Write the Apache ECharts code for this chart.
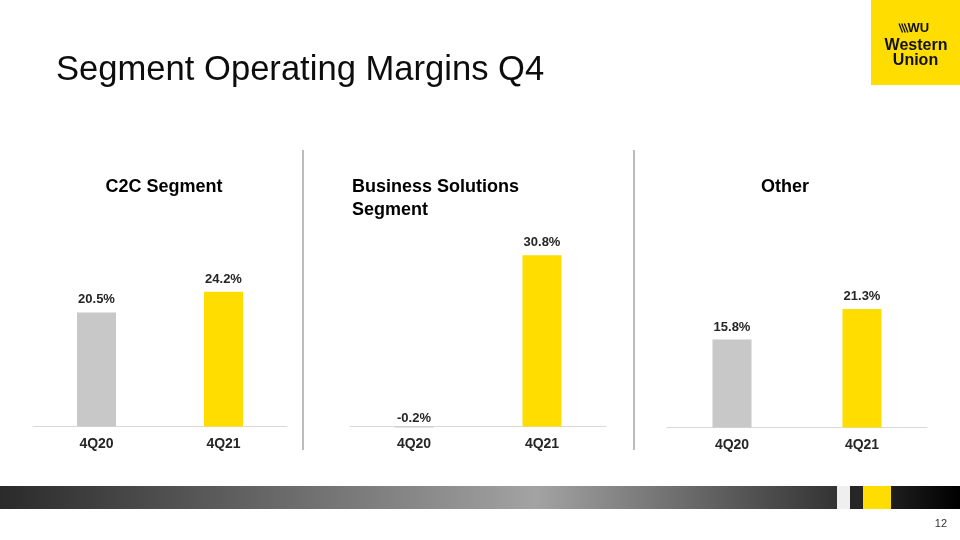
<!DOCTYPE html>
<html>
<head>
<meta charset="utf-8">
<title>Segment Operating Margins Q4</title>
<script src="https://cdn.jsdelivr.net/npm/echarts@6/dist/echarts.min.js"></script>
<style>
html, body { margin: 0; padding: 0; background: #fff; }
#chart { width: 960px; height: 540px; }
</style>
</head>
<body>
<div id="chart"></div>
<script>
// data
var quarters = ['4Q20', '4Q21'];
var c2cMargin = [20.5, 24.2];
var bsMargin = [-0.2, 30.8];
var otherMargin = [15.8, 21.3];
var panelTitles = ['C2C Segment', 'Business Solutions\nSegment', 'Other'];
var pageTitle = 'Segment Operating Margins Q4';
var pageNumber = '12';

var font = '"Liberation Sans", Arial, sans-serif';
var barColors = ['#c8c8c8', '#ffdd00'];
var panels = [
    { left: 33, width: 254, top: 204, titleX: 164, align: 'center', values: c2cMargin },
    { left: 350, width: 256, top: 204, titleX: 352, align: 'left', values: bsMargin },
    { left: 667, width: 260, top: 205, titleX: 785, align: 'center', values: otherMargin }
];

var grids = [], xAxes = [], yAxes = [], series = [], graphics = [];

panels.forEach(function (p, i) {
    grids.push({ left: p.left, width: p.width, top: p.top, height: 233.5 });
    xAxes.push({
        type: 'category',
        gridIndex: i,
        data: quarters,
        axisTick: { show: false },
        axisLine: { onZero: true, lineStyle: { color: '#d9d9d9', width: 1 } },
        axisLabel: { margin: 0, fontSize: 14, fontWeight: 'bold', color: '#262626', fontFamily: font }
    });
    yAxes.push({ type: 'value', gridIndex: i, min: -2, max: 40, show: false });
    series.push({
        type: 'bar',
        xAxisIndex: i,
        yAxisIndex: i,
        barWidth: 39,
        data: p.values.map(function (v, j) {
            return {
                value: v,
                itemStyle: { color: barColors[j] },
                label: { distance: v < 0 ? 1 : 6 }
            };
        }),
        label: {
            show: true,
            position: 'top',
            fontSize: 13,
            fontWeight: 'bold',
            color: '#262626',
            fontFamily: font,
            formatter: function (d) { return d.value.toFixed(1) + '%'; }
        }
    });
    graphics.push({
        type: 'text',
        style: {
            x: p.titleX, y: 176, text: panelTitles[i],
            font: 'bold 18px ' + font, lineHeight: 23,
            fill: '#000', textAlign: p.align, textVerticalAlign: 'top'
        }
    });
});

// dividers between panels
[303, 634].forEach(function (x) {
    graphics.push({
        type: 'line',
        shape: { x1: x, y1: 150, x2: x, y2: 450 },
        style: { stroke: '#a6a6a6', lineWidth: 1.5 }
    });
});

// page title
graphics.push({
    type: 'text',
    style: {
        x: 56, y: 70, text: pageTitle, font: '34.6px ' + font,
        fill: '#0d0d0d', textAlign: 'left', textVerticalAlign: 'middle'
    }
});

// logo block
graphics.push({ type: 'rect', shape: { x: 871, y: 0, width: 89, height: 85 }, style: { fill: '#ffdd00' } });
[899, 901.7, 904.4].forEach(function (x) {
    graphics.push({
        type: 'line',
        shape: { x1: x, y1: 23.5, x2: x + 3.5, y2: 32.5 },
        style: { stroke: '#111', lineWidth: 1.3 }
    });
});
graphics.push({ type: 'text', style: { x: 907.5, y: 28.5, text: 'WU', font: 'bold 13px ' + font, fill: '#111', textAlign: 'left', textVerticalAlign: 'middle' } });
graphics.push({ type: 'text', style: { x: 916, y: 46, text: 'Western', font: 'bold 16px ' + font, fill: '#111', textAlign: 'center', textVerticalAlign: 'middle' } });
graphics.push({ type: 'text', style: { x: 915.5, y: 61, text: 'Union', font: 'bold 16px ' + font, fill: '#111', textAlign: 'center', textVerticalAlign: 'middle' } });

// footer band
graphics.push({
    type: 'rect', shape: { x: 0, y: 486, width: 837, height: 23 },
    style: {
        fill: new echarts.graphic.LinearGradient(0, 0, 1, 0, [
            { offset: 0, color: '#2a2a2a' },
            { offset: 0.64, color: '#a3a3a3' },
            { offset: 1, color: '#333333' }
        ])
    }
});
graphics.push({ type: 'rect', shape: { x: 837, y: 486, width: 13, height: 23 }, style: { fill: '#efefef' } });
graphics.push({ type: 'rect', shape: { x: 850, y: 486, width: 13, height: 23 }, style: { fill: '#262626' } });
graphics.push({ type: 'rect', shape: { x: 863, y: 486, width: 28, height: 23 }, style: { fill: '#ffdd00' } });
graphics.push({
    type: 'rect', shape: { x: 891, y: 486, width: 69, height: 23 },
    style: {
        fill: new echarts.graphic.LinearGradient(0, 0, 1, 0, [
            { offset: 0, color: '#1e1e1e' },
            { offset: 1, color: '#000000' }
        ])
    }
});
graphics.push({ type: 'text', style: { x: 947, y: 524, text: pageNumber, font: '11px ' + font, fill: '#333', textAlign: 'right', textVerticalAlign: 'middle' } });

var chart = echarts.init(document.getElementById('chart'));
chart.setOption({
    animation: false,
    backgroundColor: '#fff',
    grid: grids,
    xAxis: xAxes,
    yAxis: yAxes,
    series: series,
    graphic: graphics
});
</script>
</body>
</html>
